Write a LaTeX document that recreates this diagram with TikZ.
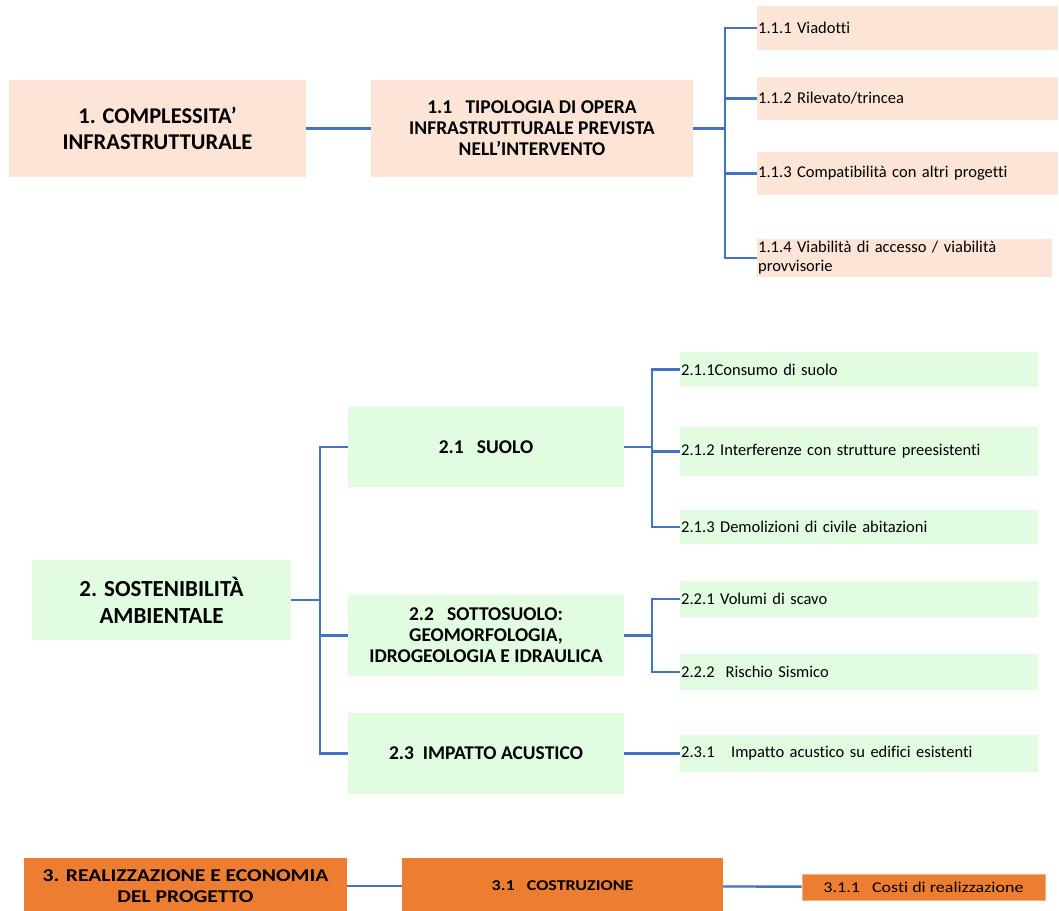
\documentclass[tikz,border=0pt]{standalone}
\usepackage{fontspec}
\setmainfont{Carlito}[Ligatures=NoCommon]
\newfontfamily\widefont[FakeStretch=1.2,Ligatures=NoCommon]{Carlito}
\usepackage{tikz}
\usetikzlibrary{positioning}

\definecolor{peach}{HTML}{FCE4D6}
\definecolor{mint}{HTML}{E2FCE2}
\definecolor{rust}{HTML}{ED7D31}
\definecolor{rustlight}{HTML}{F4B183}
\definecolor{linkblue}{HTML}{4472C4}

\tikzset{
  box/.style={inner sep=0pt, align=center, text=black},
  lvlone/.style={box, font=\fontsize{22.5}{26}\selectfont\bfseries},
  lvltwo/.style={box, font=\fontsize{19.5}{21}\selectfont\bfseries},
  leaf/.style={inner xsep=1pt, inner ysep=0pt, align=left, anchor=west,
    font=\fontsize{16.5}{19}\selectfont},
  link/.style={draw=linkblue, line width=2.4pt},
}

\begin{document}
\begin{tikzpicture}[x=1pt, y=-1pt]
    \useasboundingbox (0,0) rectangle (1059,910);

    % 1. Complessita' infrastrutturale
    \node[lvlone, fill=peach, minimum width=297pt, minimum height=97pt] (c1) at (157.5,128.5) {1. COMPLESSITA’\\INFRASTRUTTURALE};
    \node[lvltwo, fill=peach, minimum width=322pt, minimum height=97pt] (t11) at (532,128.5) {1.1\ \ \ TIPOLOGIA DI OPERA\\INFRASTRUTTURALE PREVISTA\\NELL’INTERVENTO};
    \node[leaf, fill=peach, text width=299pt, minimum height=44pt] (l111) at (757,28) {1.1.1 Viadotti};
    \node[leaf, fill=peach, text width=299pt, minimum height=43pt] (l112) at (757,98.5) {1.1.2 Rilevato/trincea};
    \node[leaf, fill=peach, text width=299pt, minimum height=43pt] (l113) at (757,173.5) {1.1.3 Compatibilità con altri progetti};
    \node[leaf, fill=peach, text width=293pt, minimum height=38pt] (l114) at (757,258) {1.1.4 Viabilità di accesso / viabilità\\provvisorie};

    \draw[link] (c1) -- (t11);
    \coordinate (j1) at ([xshift=32pt]t11.east);
    \draw[link] (t11.east) -- (j1);
    \foreach \n in {l111,l112,l113,l114}
        \draw[link] (j1) |- (\n.west);

    % 2. Sostenibilita' ambientale
    \node[box, font=\fontsize{23}{27}\selectfont\bfseries, fill=mint, minimum width=259pt, minimum height=80pt] (c2) at (161.5,600) {2. SOSTENIBILITÀ\\AMBIENTALE};
    \node[lvltwo, fill=mint, minimum width=276pt, minimum height=80pt] (t21) at (486,447) {2.1\ \ \ SUOLO};
    \node[lvltwo, fill=mint, minimum width=276pt, minimum height=81pt] (t22) at (486,635.5) {2.2\ \ \ SOTTOSUOLO:\\GEOMORFOLOGIA,\\IDROGEOLOGIA E IDRAULICA};
    \node[lvltwo, fill=mint, minimum width=276pt, minimum height=81pt] (t23) at (486,753.5) {2.3\ \ IMPATTO ACUSTICO};

    \node[leaf, fill=mint, text width=356pt, minimum height=35pt] (l211) at (680,369.5) {2.1.1Consumo di suolo};
    \node[leaf, fill=mint, text width=356pt, minimum height=49pt] (l212) at (680,451.5) {2.1.2 Interferenze con strutture preesistenti};
    \node[leaf, fill=mint, text width=356pt, minimum height=34pt] (l213) at (680,527) {2.1.3 Demolizioni di civile abitazioni};
    \node[leaf, fill=mint, text width=356pt, minimum height=36pt] (l221) at (680,599) {2.2.1 Volumi di scavo};
    \node[leaf, fill=mint, text width=356pt, minimum height=36pt] (l222) at (680,672) {2.2.2\ \ Rischio Sismico};
    \node[leaf, fill=mint, text width=356pt, minimum height=37pt] (l231) at (680,753.5) {2.3.1\ \ \ Impatto acustico su edifici esistenti};

    \coordinate (j2) at ([xshift=29pt]c2.east);
    \draw[link] (c2.east) -- (j2);
    \foreach \n in {t21,t22,t23}
        \draw[link] (j2) |- (\n.west);

    \coordinate (j21) at ([xshift=28pt]t21.east);
    \draw[link] (t21.east) -- (j21);
    \foreach \n in {l211,l212,l213}
        \draw[link] (j21) |- (\n.west);

    \coordinate (j22) at ([xshift=28pt]t22.east);
    \draw[link] (t22.east) -- (j22);
    \foreach \n in {l221,l222}
        \draw[link] (j22) |- (\n.west);

    \draw[link] (t23) -- (l231);

    % 3. Realizzazione e economia del progetto
    \node[box, font=\widefont\fontsize{18}{21}\selectfont\bfseries, fill=rust, minimum width=323pt, minimum height=56pt] (c3) at (185.5,886) {3. REALIZZAZIONE E ECONOMIA\\DEL PROGETTO};
    \node[box, font=\widefont\fontsize{15}{18}\selectfont\bfseries, fill=rust, minimum width=321pt, minimum height=56pt] (t31) at (562.5,886) {3.1\ \ \ COSTRUZIONE};
    \node[box, font=\widefont\fontsize{15}{18}\selectfont, fill=rust, draw=rustlight, line width=0.8pt, minimum width=243pt, minimum height=26pt] (l311) at (923.5,887) {3.1.1\ \ \ Costi di realizzazione};

    \draw[link] (c3) -- (t31);
    \draw[link] (t31) -- (l311);
\end{tikzpicture}
\end{document}
